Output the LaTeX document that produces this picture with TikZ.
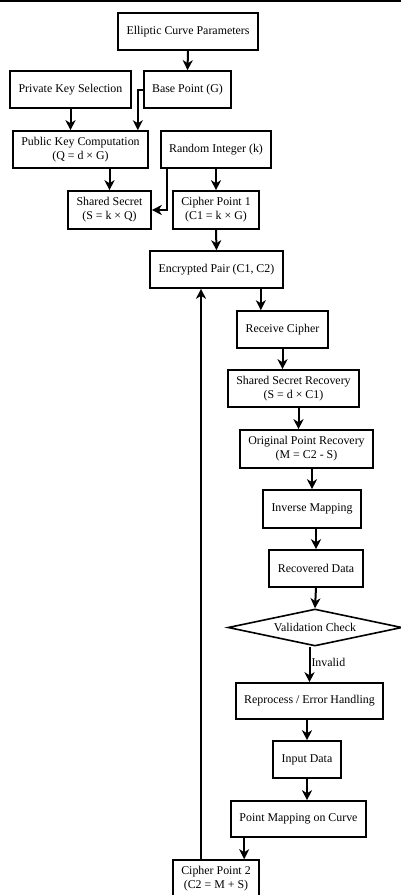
\documentclass[tikz,border=0pt]{standalone}
\usepackage{fontspec}
\setmainfont{Liberation Serif}
\usetikzlibrary{shapes.geometric, arrows.meta}

\tikzset{
  box/.style = {draw, line width = 1.6pt, align = center, inner sep = 1pt, minimum height = 37pt, font = \fontsize{11.9}{14}\selectfont},
  decision/.style = {draw, diamond, aspect = 4.7, line width = 1.6pt, inner sep = 0pt, font = \fontsize{11.9}{14}\selectfont},
  arr/.style = {-{Stealth[length = 10pt, width = 10pt, inset = 3pt]}, line width = 2pt}
}

\begin{document}
\begin{tikzpicture}[x = 1pt, y = -1pt]

            \useasboundingbox (0,0) rectangle (401,895);
            \draw [line width = 1.6pt] (0,0.8) -- (401,0.8);

            \node [box, minimum width = 140pt] (ecp) at (188,31.5) {Elliptic Curve Parameters};
            \node [box, minimum width = 121pt] (pks) at (70.5,89.5) {Private Key Selection};
            \node [box, minimum width = 87pt] (bp) at (187.5,89.5) {Base Point (G)};
            \node [box, minimum width = 135pt] (pkc) at (80.5,149.5) {Public Key Computation\\(Q = d × G)};
            \node [box, minimum width = 110pt] (ri) at (216,149.5) {Random Integer (k)};
            \node [box, minimum width = 83pt, minimum height = 38pt] (ss) at (109.5,210) {Shared Secret\\(S = k × Q)};
            \node [box, minimum width = 86pt, minimum height = 38pt] (cp1) at (216,210) {Cipher Point 1\\(C1 = k × G)};
            \node [box, minimum width = 133pt] (ep) at (216.5,269.5) {Encrypted Pair (C1, C2)};
            \node [box, minimum width = 91pt] (rc) at (282.5,329.5) {Receive Cipher};
            \node [box, minimum width = 131pt] (ssr) at (293.5,388.5) {Shared Secret Recovery\\(S = d × C1)};
            \node [box, minimum width = 133pt, minimum height = 38pt] (opr) at (306.5,449) {Original Point Recovery\\(M = C2 - S)};
            \node [box, minimum width = 98pt, minimum height = 38pt] (im) at (312,509) {Inverse Mapping};
            \node [box, minimum width = 94pt] (rd) at (316,568.5) {Recovered Data};
            \node [decision, minimum width = 174pt, minimum height = 37pt] (vc) at (315,627.5) {Validation Check};
            \node [box, minimum width = 147pt, minimum height = 36pt] (reh) at (309.5,701) {Reprocess / Error Handling};
            \node [box, minimum width = 68pt] (id) at (307,759.5) {Input Data};
            \node [box, minimum width = 135pt, minimum height = 36pt] (pm) at (298.5,819) {Point Mapping on Curve};
            \node [box, minimum width = 86pt, minimum height = 38pt] (cp2) at (216,879) {Cipher Point 2\\(C2 = M + S)};

            % key generation
            \draw [arr] (ecp.south) -- (bp.north);
            \draw [arr] (pks.south) -- (pks.south |- pkc.north);
            \draw [arr] (bp.west) -| ([xshift = -11pt]pkc.north east);
            \draw [arr] (ss |- pkc.south) -- (ss.north);
            \draw [arr] (ri.south) -- (cp1.north);
            \draw [arr] ([xshift = 7pt]ri.south west) |- (ss.east);
            \draw [arr] (cp1.south) -- (ep.north);

            % decryption
            \draw [arr] ([xshift = -23pt]ep.south east) coordinate (t1) -- (t1 |- rc.north);
            \draw [arr] (rc.south) -- (rc.south |- ssr.north);
            \draw [arr] ([xshift = 5pt]ssr.south) coordinate (t2) -- (t2 |- opr.north);
            \draw [arr] (im |- opr.south) -- (im.north);
            \draw [arr] (rd |- im.south) -- (rd.north);
            \draw [arr] (rd.south) -- (vc.north);
            \draw [arr] (vc.south -| reh) -- node [right, pos = 0.45, inner sep = 1pt, font = \fontsize{11.9}{14}\selectfont] {Invalid} (reh.north);

            % encryption of the message
            \draw [arr] (id |- reh.south) -- (id.north);
            \draw [arr] (id.south) -- (id |- pm.north);
            \draw [arr] ([xshift = 14pt]pm.south west) coordinate (t3) -- (t3 |- cp2.north);
            \draw [arr] ([xshift = -15pt]cp2.north) coordinate (t4) -- (t4 |- ep.south);

\end{tikzpicture}
\end{document}
